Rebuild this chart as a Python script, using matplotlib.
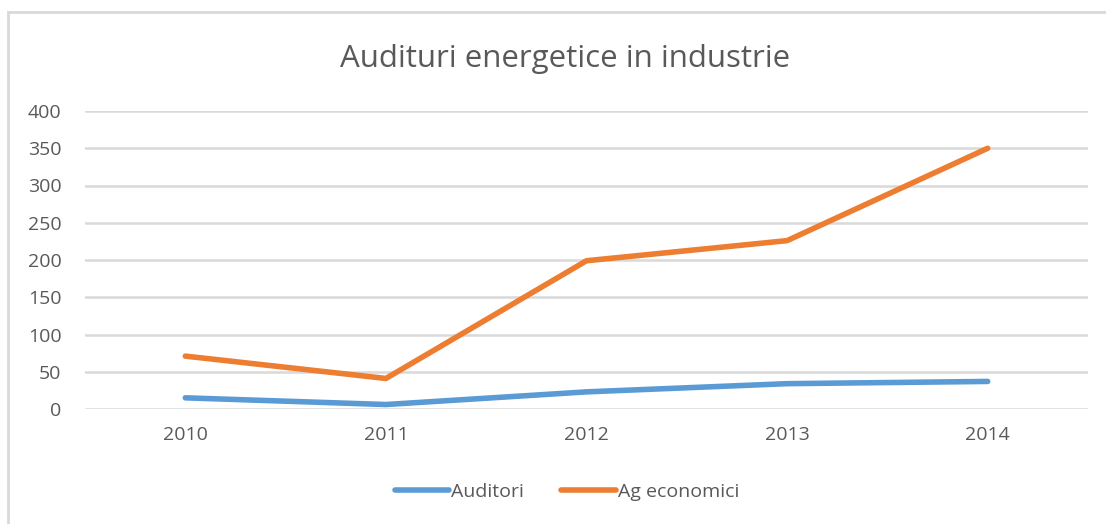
import matplotlib
matplotlib.use("Agg")
import matplotlib.pyplot as plt
from matplotlib.patches import Rectangle

years = ["2010", "2011", "2012", "2013", "2014"]
auditori = [15, 6, 23, 34, 37]
ag_economici = [71, 41, 199, 226, 350]
yticks = [0, 50, 100, 150, 200, 250, 300, 350, 400]

plt.rcParams['font.family'] = ['Open Sans', 'DejaVu Sans']
text_color = '#595959'

W, H = 1106, 524
fig = plt.figure(figsize=(W / 100, H / 100), dpi=100)

# light grey chart frame (runs off the right and bottom edge)
fig.patches.append(Rectangle((8 / W, -0.05), 1.1, 1 - 12 / H + 0.05,
                             transform=fig.transFigure, fill=False,
                             edgecolor='#D9D9D9', linewidth=2))

ax = fig.add_axes([85 / W, 1 - 409 / H, (1088 - 85) / W, (409 - 111) / H])
x = range(len(years))
ax.plot(x, auditori, color='#5B9BD5', linewidth=4, solid_capstyle='round',
        label='Auditori')
ax.plot(x, ag_economici, color='#ED7D31', linewidth=4, solid_capstyle='round',
        label='Ag economici')

ax.set_xlim(-0.5, len(years) - 0.5)
ax.set_ylim(0, 400)
ax.set_xticks(list(x))
ax.set_xticklabels(years)
ax.set_yticks(yticks)
ax.grid(axis='y', color='#D9D9D9', linewidth=1.8)
ax.set_axisbelow(True)
for s in ax.spines.values():
    s.set_visible(False)
ax.tick_params(length=0, labelsize=14, colors=text_color, pad=12)
ax.tick_params(axis='y', pad=17)

fig.text(565 / W, 1 - 59 / H, 'Audituri energetice in industrie',
         ha='center', va='center', fontsize=22.5, color=text_color)

leg = fig.legend(loc='center', bbox_to_anchor=(567 / W, 1 - 492 / H),
                 ncol=2, frameon=False, fontsize=14, handlelength=2.8,
                 handletextpad=0.1, columnspacing=1.9)
for t in leg.get_texts():
    t.set_color(text_color)

fig.savefig('out.png', dpi=100)
